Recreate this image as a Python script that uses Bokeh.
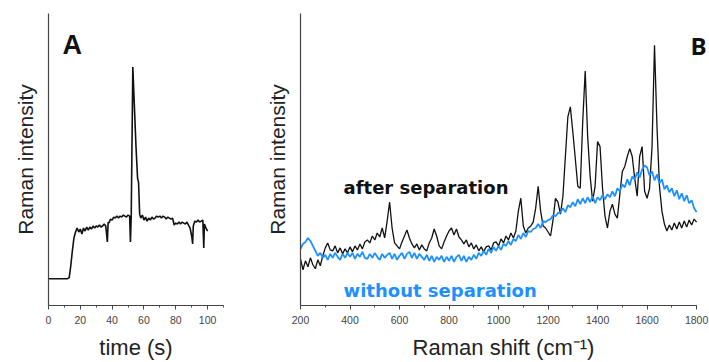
from bokeh.plotting import figure
from bokeh.layouts import row
from bokeh.models import Range1d, SingleIntervalTicker, FixedTicker, Label
from bokeh.embed import file_html
from bokeh.resources import INLINE

# ---------------- data ----------------
# Panel A: time trace
time_s = [0, 4, 8, 12, 13, 14, 15, 16, 17, 18, 19, 20, 21, 22, 23, 24, 25, 26, 27, 28, 29,
          30, 31, 32, 33, 34, 35, 36, 37, 37.5, 38, 39, 40, 41, 42, 43, 44, 45, 46, 47, 48,
          49, 50, 51, 51.5, 52, 53, 54, 55, 56, 56.6, 57.3, 58, 59, 60, 61, 62, 63, 64, 65,
          66, 67, 68, 69, 70, 71, 72, 73, 74, 75, 76, 77, 78, 79, 80, 81, 82, 83, 84, 85,
          86, 87, 88, 89, 90, 90.6, 91, 92, 93, 94, 95, 96, 97, 97.6, 98, 99, 100]
intensity_a = [27, 27, 27, 27, 28, 40, 55, 68, 74, 78, 74, 77, 72, 78, 75, 79, 76, 79, 77, 80, 78,
               80, 79, 81, 79, 80, 82, 80, 64, 84, 83, 87, 86, 89, 88, 90, 88, 90, 89, 91, 90,
               89, 91, 90, 64, 90, 240, 200, 160, 128, 124, 92, 88, 91, 86, 89, 85, 88, 86, 89,
               87, 88, 90, 89, 90, 88, 90, 89, 87, 89, 88, 87, 88, 81, 83, 82, 84, 82, 84, 83,
               82, 84, 81, 78, 70, 62, 80, 85, 84, 86, 84, 85, 86, 58, 82, 78, 75]

# Panel B: Raman spectra (Raman shift 200..1800 cm-1, step 10)
raman_shift = list(range(200, 1801, 10))
after_sep = [47, 36, 45, 39, 48, 41, 37, 46, 40, 50,
             58, 63, 56, 55, 60, 53, 58, 52, 57, 53,
             59, 54, 60, 56, 62, 57, 64, 66, 63, 70,
             66, 73, 69, 78, 68, 85, 104, 78, 63, 60,
             57, 64, 70, 76, 68, 62, 58, 62, 56, 61,
             57, 55, 63, 68, 77, 70, 60, 57, 64, 70,
             75, 78, 71, 77, 69, 66, 62, 66, 59, 63,
             57, 61, 55, 59, 54, 59, 60, 56, 63, 64,
             60, 67, 63, 70, 66, 73, 68, 75, 95, 108,
             80, 73, 78, 80, 84, 98, 120, 95, 80, 78,
             74, 70, 86, 108, 104, 92, 110, 150, 190, 200,
             175, 148, 120, 118, 185, 236, 170, 130, 105, 120,
             165, 160, 118, 90, 78, 95, 102, 92, 88, 112,
             135, 140, 150, 158, 150, 128, 110, 150, 160, 115,
             108, 118, 160, 262, 180, 120, 95, 82, 75, 81,
             76, 83, 77, 84, 78, 85, 79, 86, 81, 87,
             84]
without_sep = [57, 62, 64, 68, 65, 60, 55, 50, 53, 48,
               51, 46, 52, 48, 53, 49, 46, 52, 48, 53,
               49, 53, 47, 52, 49, 54, 48, 47, 52, 48,
               53, 49, 46, 52, 48, 51, 53, 47, 52, 46,
               50, 53, 47, 52, 54, 48, 53, 47, 52, 49,
               46, 51, 45, 50, 44, 49, 46, 50, 44, 49,
               45, 50, 44, 49, 51, 45, 50, 44, 49, 46,
               51, 47, 53, 50, 55, 51, 57, 53, 59, 55,
               60, 56, 62, 60, 65, 61, 67, 65, 71, 67,
               73, 69, 75, 74, 77, 78, 82, 78, 85, 84,
               86, 87, 91, 90, 93, 94, 98, 94, 101, 99,
               104, 100, 107, 102, 108, 103, 109, 104, 110, 103,
               109, 106, 111, 107, 112, 109, 115, 110, 118, 115,
               122, 119, 127, 121, 130, 127, 134, 129, 137, 141,
               139, 131, 135, 126, 132, 123, 127, 117, 121, 114,
               118, 110, 116, 107, 113, 105, 111, 103, 106, 98,
               94]

FONT = "Liberation Sans"
AXIS_COLOR = "#444444"
BLUE = "#1e90ff"


def style(p, xlabel):
    p.outline_line_color = None
    p.xgrid.visible = False
    p.ygrid.visible = False
    for ax in (p.xaxis[0], p.yaxis[0]):
        ax.axis_line_color = AXIS_COLOR
        ax.axis_line_width = 1.2
        ax.axis_label_text_font = FONT
        ax.axis_label_text_font_style = "normal"
        ax.axis_label_text_color = "#222222"
        ax.axis_label_text_font_size = "22px"
    xa = p.xaxis[0]
    xa.axis_label = xlabel
    xa.major_tick_out = 4
    xa.major_tick_in = 0
    xa.minor_tick_out = 2
    xa.minor_tick_in = 0
    xa.major_tick_line_color = AXIS_COLOR
    xa.minor_tick_line_color = AXIS_COLOR
    xa.major_label_text_font = FONT
    xa.major_label_text_font_size = "10.5px"
    xa.major_label_text_color = "#444444"
    xa.major_label_standoff = 6
    xa.axis_label_standoff = 8
    ya = p.yaxis[0]
    ya.axis_label = "Raman intensity"
    ya.axis_label_text_font_size = "21px"
    ya.ticker = FixedTicker(ticks=[])
    ya.major_tick_line_color = None
    ya.minor_tick_line_color = None
    ya.major_label_text_color = None
    ya.axis_label_standoff = 12


# ---------------- Panel A ----------------
pA = figure(width=248, height=362, output_backend="svg", toolbar_location=None,
            x_range=Range1d(0, 110), y_range=Range1d(0, 294),
            min_border_left=48, min_border_right=25, min_border_top=13, min_border_bottom=55)
style(pA, "time (s)")
pA.xaxis[0].ticker = SingleIntervalTicker(interval=20, num_minor_ticks=2)
pA.line(time_s, intensity_a, line_color="#111111", line_width=1.6)
pA.add_layout(Label(x=15, y=262, text="A", text_font=FONT, text_font_style="bold",
                    text_font_size="27px", text_align="center", text_baseline="middle",
                    text_color="#111111"))

# ---------------- Panel B ----------------
# frame extends a little past 1800 so the panel letter is not clipped; the axis stops at 1800
pB = figure(width=461, height=362, output_backend="svg", toolbar_location=None,
            x_range=Range1d(200, 1840), y_range=Range1d(0, 294),
            min_border_left=52, min_border_right=3, min_border_top=13, min_border_bottom=55)
style(pB, "Raman shift (cm\u207b\u00b9)")
pB.xaxis[0].ticker = SingleIntervalTicker(interval=200, num_minor_ticks=2)
pB.xaxis[0].bounds = (200, 1800)
pB.line(raman_shift, after_sep, line_color="#111111", line_width=1.3)
pB.line(raman_shift, without_sep, line_color=BLUE, line_width=1.8)
pB.add_layout(Label(x=1808, y=262, text="B", text_font="Open Sans", text_font_style="bold",
                    text_font_size="24px", text_align="center", text_baseline="middle",
                    text_color="#111111"))
pB.add_layout(Label(x=374, y=119, text="after separation", text_font="DejaVu Sans",
                    text_font_style="bold", text_font_size="18px", text_align="left",
                    text_baseline="alphabetic", text_color="#111111"))
pB.add_layout(Label(x=374, y=15, text="without separation", text_font="DejaVu Sans",
                    text_font_style="bold", text_font_size="18px", text_align="left",
                    text_baseline="alphabetic", text_color=BLUE))

layout = row(pA, pB, spacing=0)
open("out.html", "w").write(file_html(layout, INLINE))
